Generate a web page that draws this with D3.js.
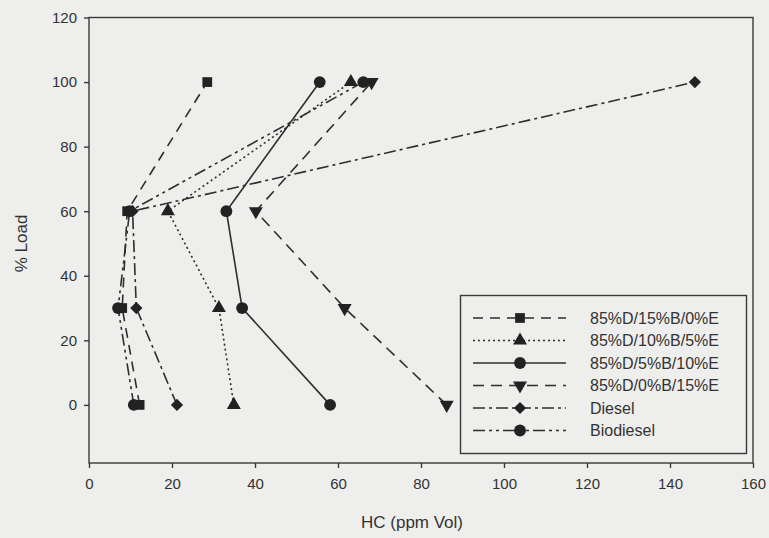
<!doctype html>
<html lang="en">
<head>
  <meta charset="utf-8">
  <title>HC vs load</title>
  <style>
    body { margin: 0; background: #eeeeec; }
    svg { display: block; font-family: Arial, "Liberation Sans", sans-serif; }
    .axis path, .axis line { stroke: #3a3a3a; stroke-width: 1.4; }
    .axis text { fill: #333; font-size: 15px; }
  </style>
</head>
<body>
  <script src="https://d3js.org/d3.v7.min.js" charset="utf-8"></script>
  <script>

// % load levels and HC readings (ppm Vol) per fuel blend
var loads = [0, 30, 60, 100];
var seriesNames = ["85%D/15%B/0%E", "85%D/10%B/5%E", "85%D/5%B/10%E", "85%D/0%B/15%E", "Diesel", "Biodiesel"];
var hc15B = [12.2, 8.0, 9.2, 28.5];
var hc10B = [34.9, 31.3, 19.0, 63.1];
var hc5B = [58.1, 36.9, 33.1, 55.6];
var hc0B = [86.2, 61.6, 40.2, 68.1];
var hcDiesel = [21.2, 11.4, 10.5, 146.0];
var hcBiodiesel = [10.8, 7.0, 9.8, 66.1];
var xTicks = [0, 20, 40, 60, 80, 100, 120, 140, 160];
var yTicks = [0, 20, 40, 60, 80, 100, 120];

var W = 769, H = 538;
// plot box edges (don't call it "top", window.top is read-only)
var pLeft = 89, pRight = 753, pTop = 17.5, pBottom = 463;

var svg = d3.select("body").append("svg")
    .attr("width", W)
    .attr("height", H);

var x = d3.scaleLinear().domain([0, 160]).range([pLeft, pRight]);
var y = d3.scaleLinear().domain([-18, 120]).range([pBottom, pTop]);

// line style + marker per series
var styles = [
  { dash: "10,7", sym: d3.symbolSquare, size: 95 },
  { dash: "2,3", sym: d3.symbolTriangle, size: 85 },
  { dash: null, sym: d3.symbolCircle, size: 110 },
  { dash: "11,7", sym: d3.symbolTriangle, size: 85, rot: 180 },
  { dash: "12,4,3,4", sym: d3.symbolSquare, size: 75, rot: 45 },
  { dash: "12,4,3,4,3,4", sym: d3.symbolCircle, size: 110 }
];
var allValues = [hc15B, hc10B, hc5B, hc0B, hcDiesel, hcBiodiesel];

var series = seriesNames.map(function(name, i) {
  return {
    name: name,
    style: styles[i],
    points: loads.map(function(l, j) { return { hc: allValues[i][j], load: l }; })
  };
});

// frame
svg.append("rect")
    .attr("x", pLeft).attr("y", pTop)
    .attr("width", pRight - pLeft).attr("height", pBottom - pTop)
    .attr("fill", "none")
    .attr("stroke", "#3a3a3a")
    .attr("stroke-width", 1.4);

svg.append("g")
    .attr("class", "axis")
    .attr("transform", "translate(0," + pBottom + ")")
    .call(d3.axisBottom(x).tickValues(xTicks).tickSize(5).tickPadding(10).tickSizeOuter(0));

svg.append("g")
    .attr("class", "axis")
    .attr("transform", "translate(" + pLeft + ",0)")
    .call(d3.axisLeft(y).tickValues(yTicks).tickSize(5).tickPadding(7).tickSizeOuter(0));

svg.selectAll(".axis .domain").remove();

// axis titles
svg.append("text")
    .attr("x", (pLeft + pRight) / 2 - 9)
    .attr("y", 528)
    .attr("text-anchor", "middle")
    .attr("font-size", 17)
    .attr("fill", "#333")
    .text("HC (ppm Vol)");

svg.append("text")
    .attr("transform", "translate(27," + y(50) + ") rotate(-90)")
    .attr("text-anchor", "middle")
    .attr("font-size", 17)
    .attr("fill", "#333")
    .text("% Load");

var line = d3.line()
    .x(function(d) { return x(d.hc); })
    .y(function(d) { return y(d.load); });

var g = svg.append("g");

series.forEach(function(s) {
  g.append("path")
      .datum(s.points)
      .attr("d", line)
      .attr("fill", "none")
      .attr("stroke", "#2e2e2e")
      .attr("stroke-width", 1.6)
      .attr("stroke-dasharray", s.style.dash);
});

function marker(sel, st) {
  sel.attr("d", d3.symbol().type(st.sym).size(st.size))
     .attr("fill", "#222");
}

function rot(st) {
  return st.rot ? " rotate(" + st.rot + ")" : "";
}

series.forEach(function(s) {
  g.selectAll(null)
      .data(s.points)
      .enter().append("path")
      .attr("transform", function(d) {
        return "translate(" + x(d.hc) + "," + y(d.load) + ")" + rot(s.style);
      })
      .call(marker, s.style);
});

// legend
var lg = svg.append("g");
lg.append("rect")
    .attr("x", 460.5).attr("y", 295.5)
    .attr("width", 286).attr("height", 158)
    .attr("fill", "#eeeeec")
    .attr("stroke", "#3a3a3a")
    .attr("stroke-width", 1.4);

var row = lg.selectAll(".row")
    .data(series)
    .enter().append("g")
    .attr("transform", function(d, i) { return "translate(0," + (318 + i * 22.5) + ")"; });

row.append("line")
    .attr("x1", 473).attr("x2", 566)
    .attr("stroke", "#2e2e2e")
    .attr("stroke-width", 1.6)
    .attr("stroke-dasharray", function(d) { return d.style.dash; });

row.append("path")
    .attr("transform", function(d) { return "translate(520,0)" + rot(d.style); })
    .each(function(d) { d3.select(this).call(marker, d.style); });

row.append("text")
    .attr("x", 590)
    .attr("dy", "0.36em")
    .attr("font-size", 16)
    .attr("fill", "#333")
    .text(function(d) { return d.name; });

  </script>
</body>
</html>
